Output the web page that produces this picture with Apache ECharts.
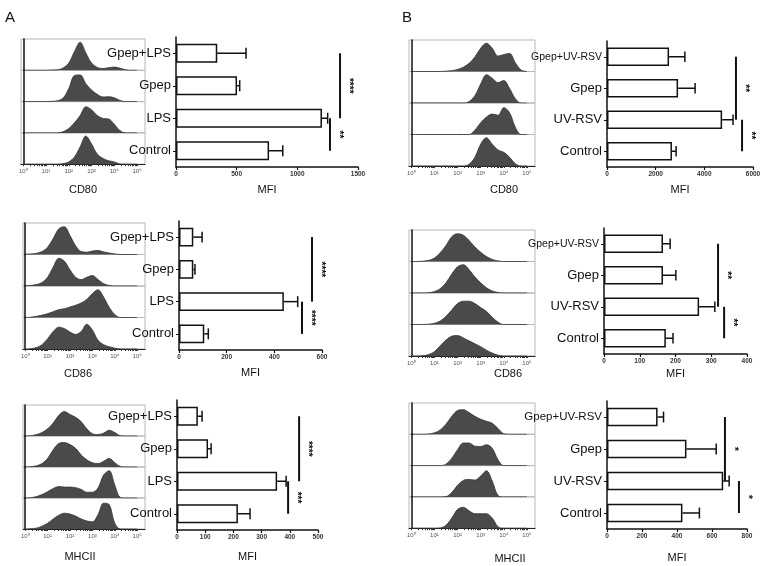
<!DOCTYPE html>
<html>
<head>
<meta charset="utf-8">
<script src="https://cdn.jsdelivr.net/npm/echarts@6/dist/echarts.min.js"></script>
<style>
  html, body { margin: 0; padding: 0; background: #fff; }
  #chart-container { width: 767px; height: 566px; }
</style>
</head>
<body>
<div id="chart-container"></div>
<script>
var dom = document.getElementById("chart-container");
var myChart = echarts.init(dom, null, { renderer: "canvas" });

// histogram sample positions (log10 of fluorescence)
var histX = [0, 0.25, 0.5, 0.75, 1, 1.25, 1.5, 1.75, 2, 2.25, 2.5, 2.75, 3, 3.25, 3.5, 3.75, 4, 4.25, 4.5, 4.75, 5];
var decadeTicks = [0, 1, 2, 3, 4, 5];

// histogram heights, rows top to bottom
var histCD80A = [
  [0, 0, 0, 0, 0, 0.01, 0.02, 0.08, 0.25, 0.65, 0.97, 0.6, 0.25, 0.1, 0.06, 0.09, 0.11, 0.07, 0.02, 0, 0],
  [0, 0, 0, 0, 0, 0.01, 0.03, 0.12, 0.45, 0.9, 0.92, 0.62, 0.4, 0.25, 0.16, 0.17, 0.13, 0.04, 0, 0, 0],
  [0, 0, 0, 0, 0, 0, 0, 0.04, 0.15, 0.35, 0.6, 0.9, 0.8, 0.6, 0.5, 0.48, 0.3, 0.08, 0, 0, 0],
  [0, 0, 0, 0, 0, 0, 0, 0.02, 0.08, 0.25, 0.6, 0.97, 0.7, 0.35, 0.2, 0.12, 0.08, 0.01, 0, 0, 0]
];
var histCD86A = [
  [0.01, 0.02, 0.04, 0.1, 0.25, 0.55, 0.88, 0.95, 0.65, 0.3, 0.1, 0.08, 0.12, 0.14, 0.09, 0.05, 0.02, 0, 0, 0, 0],
  [0.01, 0.02, 0.05, 0.12, 0.3, 0.65, 0.95, 0.85, 0.55, 0.3, 0.22, 0.3, 0.36, 0.22, 0.08, 0.02, 0, 0, 0, 0, 0],
  [0, 0.01, 0.04, 0.08, 0.13, 0.2, 0.27, 0.3, 0.36, 0.42, 0.5, 0.62, 0.82, 0.95, 0.7, 0.35, 0.1, 0, 0, 0, 0],
  [0, 0.01, 0.05, 0.15, 0.35, 0.6, 0.75, 0.7, 0.58, 0.5, 0.6, 0.85, 0.65, 0.3, 0.15, 0.08, 0.03, 0, 0, 0, 0]
];
var histMHCIIA = [
  [0, 0.01, 0.05, 0.12, 0.25, 0.45, 0.72, 0.85, 0.75, 0.65, 0.5, 0.25, 0.08, 0.05, 0.1, 0.2, 0.12, 0.01, 0, 0, 0],
  [0, 0.01, 0.04, 0.12, 0.3, 0.6, 0.82, 0.85, 0.78, 0.65, 0.42, 0.25, 0.15, 0.12, 0.2, 0.3, 0.15, 0.02, 0, 0, 0],
  [0, 0.01, 0.05, 0.12, 0.22, 0.33, 0.4, 0.38, 0.38, 0.36, 0.3, 0.2, 0.2, 0.35, 0.8, 0.95, 0.45, 0.02, 0, 0, 0],
  [0, 0.01, 0.03, 0.1, 0.2, 0.35, 0.48, 0.55, 0.52, 0.45, 0.35, 0.28, 0.25, 0.5, 0.9, 0.85, 0.2, 0, 0, 0, 0]
];
var histCD80B = [
  [0, 0, 0, 0, 0, 0, 0.01, 0.03, 0.07, 0.15, 0.28, 0.5, 0.8, 0.97, 0.8, 0.53, 0.58, 0.62, 0.3, 0.05, 0],
  [0, 0, 0, 0, 0, 0, 0, 0, 0, 0, 0.05, 0.25, 0.65, 0.97, 0.85, 0.7, 0.77, 0.5, 0.15, 0, 0],
  [0, 0, 0, 0, 0, 0, 0, 0, 0, 0, 0, 0.15, 0.4, 0.6, 0.7, 0.66, 0.92, 0.75, 0.25, 0, 0],
  [0, 0, 0, 0, 0, 0, 0, 0, 0, 0, 0.06, 0.3, 0.75, 0.97, 0.75, 0.55, 0.47, 0.3, 0.08, 0, 0]
];
var histCD86B = [
  [0, 0, 0.01, 0.04, 0.12, 0.3, 0.55, 0.85, 0.95, 0.9, 0.72, 0.5, 0.32, 0.17, 0.07, 0.02, 0, 0, 0, 0, 0],
  [0, 0, 0, 0.01, 0.05, 0.15, 0.35, 0.65, 0.9, 0.97, 0.8, 0.55, 0.35, 0.18, 0.07, 0.02, 0, 0, 0, 0, 0],
  [0, 0, 0, 0.01, 0.04, 0.12, 0.28, 0.5, 0.72, 0.8, 0.8, 0.72, 0.58, 0.45, 0.25, 0.08, 0, 0, 0, 0, 0],
  [0, 0, 0.01, 0.05, 0.15, 0.35, 0.55, 0.68, 0.7, 0.62, 0.52, 0.42, 0.32, 0.2, 0.1, 0.03, 0, 0, 0, 0, 0]
];
var histMHCIIB = [
  [0, 0, 0, 0.01, 0.05, 0.15, 0.35, 0.62, 0.82, 0.85, 0.75, 0.62, 0.52, 0.45, 0.38, 0.2, 0.02, 0, 0, 0, 0],
  [0, 0, 0, 0, 0, 0, 0.05, 0.25, 0.55, 0.78, 0.78, 0.67, 0.66, 0.72, 0.6, 0.2, 0, 0, 0, 0, 0],
  [0, 0, 0, 0, 0, 0, 0.01, 0.15, 0.4, 0.57, 0.6, 0.58, 0.72, 0.9, 0.55, 0.05, 0, 0, 0, 0, 0],
  [0, 0, 0, 0, 0, 0.01, 0.1, 0.35, 0.65, 0.72, 0.6, 0.5, 0.5, 0.5, 0.35, 0.05, 0, 0, 0, 0, 0]
];

// bar chart groups and MFI values (mean, mean + error)
var groupsA = ["Gpep+LPS", "Gpep", "LPS", "Control"];
var groupsB = ["Gpep+UV-RSV", "Gpep", "UV-RSV", "Control"];

var mfiCD80A = [340, 503, 1203, 767];
var errCD80A = [577, 525, 1250, 880];
var mfiCD86A = [60, 60, 440, 106];
var errCD86A = [97, 67, 498, 123];
var mfiMHCIIA = [74, 110, 355, 216];
var errMHCIIA = [89, 121, 387, 259];
var mfiCD80B = [2550, 2920, 4730, 2670];
var errCD80B = [3200, 3620, 5180, 2840];
var mfiCD86B = [165, 165, 266, 173];
var errCD86B = [185, 201, 310, 193];
var mfiMHCIIB = [289, 454, 664, 431];
var errMHCIIB = [323, 624, 698, 528];

// significance lines: [MFI position, from group, to group]
var sigCD80A = [[1352, 0, 2.05], [1269, 2, 2.95]];
var sigCD86A = [[558, 0, 2.05], [516, 2, 3]];
var sigMHCIIA = [[433, 0, 2], [394, 2, 3]];
var sigCD80B = [[5300, 0, 2.1], [5550, 2, 3]];
var sigCD86B = [[319, 0, 2.1], [336, 2, 3]];
var sigMHCIIB = [[674, 0.3, 2.45], [754, 2.35, 3.3]];
var starsCD80A = ["****", "**"];
var starsCD86A = ["****", "****"];
var starsMHCIIA = ["****", "***"];
var starsCD80B = ["**", "**"];
var starsCD86B = ["**", "**"];
var starsMHCIIB = ["*", "*"];

var fontFamily = "Liberation Sans, Arial, Helvetica, sans-serif";
var sup = ["\u2070", "\u00b9", "\u00b2", "\u00b3", "\u2074", "\u2075"];

var panels = [
  { hist: histCD80A, histBox: [21, 39, 124, 31.3], marker: "CD80", markerPos: [83, 190],
    groups: groupsA, mean: mfiCD80A, err: errCD80A, sig: sigCD80A, stars: starsCD80A,
    barBox: [176, 37, 182, 130], max: 1500, interval: 500, nameGap: 17, longSize: 13 },
  { hist: histCD86A, histBox: [23, 223, 122, 31.5], marker: "CD86", markerPos: [78, 374],
    groups: groupsA, mean: mfiCD86A, err: errCD86A, sig: sigCD86A, stars: starsCD86A,
    barBox: [179, 221, 143, 129], max: 600, interval: 200, nameGap: 17, longSize: 13 },
  { hist: histMHCIIA, histBox: [23, 405, 122, 31], marker: "MHCII", markerPos: [80, 557],
    groups: groupsA, mean: mfiMHCIIA, err: errMHCIIA, sig: sigMHCIIA, stars: starsMHCIIA,
    barBox: [177, 400, 141, 130], max: 500, interval: 100, nameGap: 21, longSize: 13 },
  { hist: histCD80B, histBox: [409, 40, 126, 31.5], marker: "CD80", markerPos: [504, 190],
    groups: groupsB, mean: mfiCD80B, err: errCD80B, sig: sigCD80B, stars: starsCD80B,
    barBox: [607, 41, 146, 126], max: 6000, interval: 2000, nameGap: 17, longSize: 10.5 },
  { hist: histCD86B, histBox: [409, 230, 126, 31.5], marker: "CD86", markerPos: [508, 374],
    groups: groupsB, mean: mfiCD86B, err: errCD86B, sig: sigCD86B, stars: starsCD86B,
    barBox: [604, 228, 143, 126], max: 400, interval: 100, nameGap: 14, longSize: 10.5 },
  { hist: histMHCIIB, histBox: [409, 403, 126, 31.3], marker: "MHCII", markerPos: [510, 559],
    groups: groupsB, mean: mfiMHCIIB, err: errMHCIIB, sig: sigMHCIIB, stars: starsMHCIIB,
    barBox: [607, 401, 140, 128], max: 800, interval: 200, nameGap: 23, longSize: 11.5 }
];

var minorTicks = [];
for (var k = 0; k < 5; k++) {
  for (var m = 1; m < 10; m++) minorTicks.push(k + Math.log10(m));
}
minorTicks.push(5);

function errItem(params, api) {
  var y = api.value(1);
  var p0 = api.coord([api.value(0), y]);
  var p1 = api.coord([api.value(2), y]);
  var half = api.size([0, 1])[1] * 0.17;
  var st = { stroke: "#111", lineWidth: 1.5 };
  return {
    type: "group",
    children: [
      { type: "line", shape: { x1: p0[0], y1: p0[1], x2: p1[0], y2: p1[1] }, style: st },
      { type: "line", shape: { x1: p1[0], y1: p1[1] - half, x2: p1[0], y2: p1[1] + half }, style: st }
    ]
  };
}

var grids = [], xAxes = [], yAxes = [], series = [], graphics = [];

panels.forEach(function (p) {
  var hb = p.histBox;
  p.hist.forEach(function (rowVals, r) {
    var gi = grids.length;
    var last = r === p.hist.length - 1;
    grids.push({
      left: hb[0], top: hb[1] + r * hb[3], width: hb[2], height: hb[3],
      show: true, borderColor: "#b8b8b8", borderWidth: 1
    });
    xAxes.push({
      gridIndex: gi, type: "value", min: -0.1, max: 5.35,
      splitLine: { show: false },
      axisLine: { show: last, lineStyle: { color: "#222", width: 1.2 } },
      axisTick: { show: last, customValues: minorTicks, length: 2, lineStyle: { color: "#333" } },
      axisLabel: {
        show: last, customValues: decadeTicks, fontSize: 6, color: "#555", margin: 4,
        fontFamily: fontFamily,
        formatter: function (v) { return "10" + sup[Math.round(v)]; }
      }
    });
    yAxes.push({
      gridIndex: gi, type: "value", min: 0, max: 1.08,
      axisLine: { show: true, lineStyle: { color: "#111", width: 1.5 } },
      axisTick: { show: false }, axisLabel: { show: false }, splitLine: { show: false }
    });
    series.push({
      type: "line", xAxisIndex: gi, yAxisIndex: gi, silent: true,
      data: histX.map(function (x, i) { return [x, rowVals[i]]; }),
      smooth: 0.35, symbol: "none",
      lineStyle: { color: "#333", width: 0.8 },
      areaStyle: { color: "#4a4a4a", opacity: 1 }
    });
  });

  graphics.push({
    type: "text", x: p.markerPos[0], y: p.markerPos[1],
    style: { text: p.marker, fontSize: 11, fontFamily: fontFamily, fill: "#111", align: "center", verticalAlign: "middle" }
  });

  var gi = grids.length;
  var bb = p.barBox;
  grids.push({ left: bb[0], top: bb[1], width: bb[2], height: bb[3] });
  xAxes.push({
    gridIndex: gi, type: "value", min: 0, max: p.max, interval: p.interval,
    name: "MFI", nameLocation: "middle", nameGap: p.nameGap,
    nameTextStyle: { fontSize: 11, color: "#111", fontFamily: fontFamily },
    axisLine: { show: true, lineStyle: { color: "#111", width: 1.5 } },
    axisTick: { show: true, length: 3, lineStyle: { color: "#111", width: 1.2 } },
    axisLabel: {
      fontSize: 6.5, fontWeight: "bold", color: "#333", margin: 4, fontFamily: fontFamily,
      formatter: function (v) { return String(v); }
    },
    splitLine: { show: false }
  });
  yAxes.push({
    gridIndex: gi, type: "category", data: p.groups, inverse: true,
    axisLine: { show: true, lineStyle: { color: "#111", width: 1.5 } },
    axisTick: { show: true, alignWithLabel: true, length: 3, lineStyle: { color: "#111", width: 1 } },
    axisLabel: {
      margin: 5, fontSize: 13, color: "#111", fontFamily: fontFamily,
      formatter: function (v) { return v.length > 9 ? "{s|" + v + "}" : v; },
      rich: { s: { fontSize: p.longSize, color: "#111", fontFamily: fontFamily } }
    },
    splitLine: { show: false }
  });
  series.push({
    type: "bar", xAxisIndex: gi, yAxisIndex: gi, data: p.mean, barWidth: "58%", silent: true,
    itemStyle: { color: "#fff", borderColor: "#111", borderWidth: 1.5 }
  });
  series.push({
    type: "custom", xAxisIndex: gi, yAxisIndex: gi, silent: true, z: 3,
    data: p.mean.map(function (v, i) { return [v, i, p.err[i]]; }),
    encode: { x: 0, y: 1 },
    renderItem: errItem
  });
  series.push({
    type: "custom", xAxisIndex: gi, yAxisIndex: gi, silent: true, z: 3,
    data: p.sig, encode: { x: 0, y: 1 },
    renderItem: function (params, api) {
      var a = api.coord([api.value(0), api.value(1)]);
      var b = api.coord([api.value(0), api.value(2)]);
      return {
        type: "group",
        children: [
          { type: "line", shape: { x1: a[0], y1: a[1], x2: b[0], y2: b[1] }, style: { stroke: "#111", lineWidth: 2 } },
          {
            type: "text", x: a[0] + 9, y: (a[1] + b[1]) / 2, rotation: -Math.PI / 2,
            style: { text: p.stars[params.dataIndex], fontSize: 10, fontWeight: "bold", fill: "#111", align: "center", verticalAlign: "middle", fontFamily: fontFamily }
          }
        ]
      };
    }
  });
});

graphics.push({ type: "text", left: 5, top: 10, style: { text: "A", fontSize: 15, fontFamily: fontFamily, fill: "#111" } });
graphics.push({ type: "text", left: 402, top: 10, style: { text: "B", fontSize: 15, fontFamily: fontFamily, fill: "#111" } });

var option = {
  animation: false,
  backgroundColor: "#fff",
  textStyle: { fontFamily: fontFamily },
  grid: grids,
  xAxis: xAxes,
  yAxis: yAxes,
  series: series,
  graphic: graphics
};

myChart.setOption(option);
window.addEventListener("resize", myChart.resize);
</script>
</body>
</html>
